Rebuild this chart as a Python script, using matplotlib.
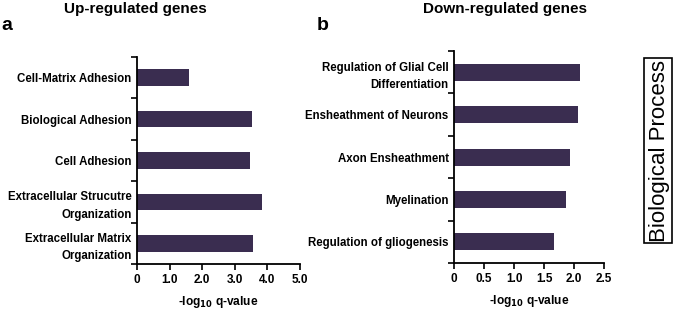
import numpy as np
import matplotlib.pyplot as plt
from matplotlib.patches import Rectangle

plt.rcParams['font.family'] = ['Liberation Sans', 'DejaVu Sans']

up_terms = ['Cell-Matrix Adhesion', 'Biological Adhesion', 'Cell Adhesion',
            'Extracellular Strucutre\nOrganization', 'Extracellular Matrix\nOrganization']
up_vals = [1.6, 3.53, 3.47, 3.83, 3.55]

down_terms = ['Regulation of Glial Cell\nDifferentiation', 'Ensheathment of Neurons',
              'Axon Ensheathment', 'Myelination', 'Regulation of gliogenesis']
down_vals = [2.09, 2.06, 1.93, 1.86, 1.66]

bar_color = '#3a2d50'

fig = plt.figure(figsize=(6.75, 3.11), dpi=100)
ax1 = fig.add_axes([0.203, 0.151, 0.241, 0.666])
ax2 = fig.add_axes([0.673, 0.154, 0.222, 0.682])


def draw(ax, terms, vals, xmax, xticks, xticklabels):
    n = len(terms)
    y = np.arange(n)[::-1]
    ax.barh(y, vals, height=0.4, color=bar_color)
    ax.set_ylim(-0.5, n - 0.5)
    ax.set_xlim(0, xmax)
    ax.set_yticks(np.arange(n + 1) - 0.5)
    ax.set_yticklabels([])
    ax.set_yticks(y, minor=True)
    ax.set_yticklabels(terms, minor=True, fontsize=8.3, fontweight='bold',
                       linespacing=1.6)
    ax.tick_params(axis='y', which='minor', length=0, pad=4)
    ax.tick_params(axis='y', which='major', length=4, width=1.2, direction='out')
    ax.set_xticks(xticks)
    ax.set_xticklabels(xticklabels, fontsize=8.5, fontweight='bold')
    ax.tick_params(axis='x', length=4, width=1.2, direction='out', pad=3)
    for s in ['top', 'right']:
        ax.spines[s].set_visible(False)
    for s in ['left', 'bottom']:
        ax.spines[s].set_linewidth(1.3)
    ax.set_xlabel(r'-log$_{\mathbf{10}}$ q-value', fontsize=8.6, fontweight='bold',
                  labelpad=6)


draw(ax1, up_terms, up_vals, 5.0, [0, 1, 2, 3, 4, 5],
     ['0', '1.0', '2.0', '3.0', '4.0', '5.0'])
draw(ax2, down_terms, down_vals, 2.5, [0, 0.5, 1, 1.5, 2, 2.5],
     ['0', '0.5', '1.0', '1.5', '2.0', '2.5'])

fig.text(135 / 675, 1 - 9 / 311, 'Up-regulated genes', ha='center', va='center',
         fontsize=11, fontweight='bold')
fig.text(505 / 675, 1 - 9 / 311, 'Down-regulated genes', ha='center', va='center',
         fontsize=11, fontweight='bold')
fig.text(1 / 675, 1 - 25 / 311, 'a', ha='left', va='center',
         fontsize=14, fontweight='bold')
fig.text(317 / 675, 1 - 25 / 311, 'b', ha='left', va='center',
         fontsize=14, fontweight='bold')
fig.text(659 / 675, 1 - 151 / 311, 'Biological Process', rotation=90,
         ha='center', va='center', fontsize=16)
fig.patches.append(Rectangle((644 / 675, 1 - 243 / 311), 28 / 675, 185 / 311,
                             transform=fig.transFigure, fill=False,
                             ec='black', lw=1.2))

fig.savefig('out.png', dpi=100)
